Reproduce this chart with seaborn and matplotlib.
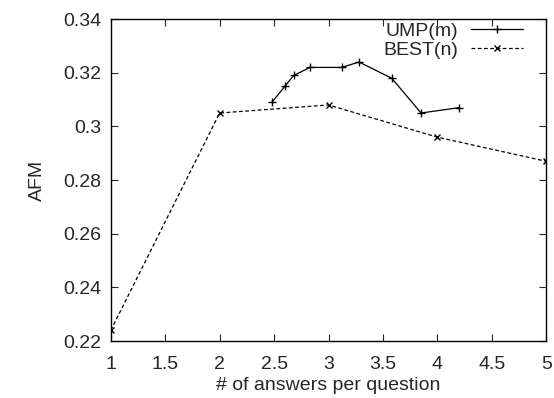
import numpy as np
import pandas as pd
import seaborn as sns
import matplotlib
matplotlib.use("Agg")
import matplotlib.pyplot as plt
from matplotlib.ticker import FuncFormatter

# ---------- Data ----------
ump_x = [2.48, 2.60, 2.68, 2.83, 3.12, 3.28, 3.58, 3.85, 4.20]
ump_y = [0.309, 0.315, 0.319, 0.322, 0.322, 0.324, 0.318, 0.305, 0.307]

best_x = [1, 2, 3, 4, 5]
best_y = [0.224, 0.305, 0.308, 0.296, 0.287]

x_ticks = [1, 1.5, 2, 2.5, 3, 3.5, 4, 4.5, 5]
y_ticks = [0.22, 0.24, 0.26, 0.28, 0.30, 0.32, 0.34]

ump = pd.DataFrame({"x": ump_x, "y": ump_y})
best = pd.DataFrame({"x": best_x, "y": best_y})

sns.set_style("ticks")
plt.rcParams['font.family'] = ['Liberation Sans', 'DejaVu Sans']
plt.rcParams['font.size'] = 14

fig, ax = plt.subplots(figsize=(5.54, 3.98), dpi=100)
fig.subplots_adjust(left=0.2, right=0.986, top=0.952, bottom=0.143)

dash = (0, (3, 2))
sns.lineplot(data=ump, x="x", y="y", color="black", linewidth=0.9,
             marker="+", markersize=6, markeredgewidth=1.0, markeredgecolor="black",
             sort=False, ax=ax, label="UMP(m)")
sns.lineplot(data=best, x="x", y="y", color="black", linewidth=0.9, linestyle=dash,
             marker="x", markersize=4.5, markeredgewidth=1.0, markeredgecolor="black",
             sort=False, ax=ax, label="BEST(n)")

ax.set_xlim(1, 5)
ax.set_ylim(0.22, 0.34)
ax.set_xticks(x_ticks)
ax.set_yticks(y_ticks)
ax.xaxis.set_major_formatter(FuncFormatter(lambda v, p: f"{v:g}"))
ax.yaxis.set_major_formatter(FuncFormatter(lambda v, p: f"{v:g}"))
ax.tick_params(direction="in", top=True, right=True, length=5, width=0.8,
               labelsize=14, pad=7)
ax.tick_params(axis="x", pad=10.5)
for s in ax.spines.values():
    s.set_linewidth(1.0)
    s.set_color("black")

ax.set_xlabel("# of answers per question", fontsize=14, labelpad=3)
ax.set_ylabel("AFM", fontsize=14, labelpad=12)

# gnuplot-style legend: text first, then sample with a single marker
handles = [
    plt.Line2D([0, 0.5, 1], [0, 0, 0], color="black", lw=0.9, marker="+",
               markersize=6, markeredgewidth=1.0, markevery=[1]),
    plt.Line2D([0, 0.5, 1], [0, 0, 0], color="black", lw=0.9, ls=dash, marker="x",
               markersize=4.5, markeredgewidth=1.0, markevery=[1]),
]
ax.legend(handles, ["UMP(m)", "BEST(n)"], loc="upper right", frameon=False,
          markerfirst=False, handlelength=2.7, fontsize=14,
          borderpad=0, borderaxespad=0, labelspacing=0.05, handletextpad=0.62,
          bbox_to_anchor=(0.947, 0.99))

fig.savefig("out.png", dpi=100)
